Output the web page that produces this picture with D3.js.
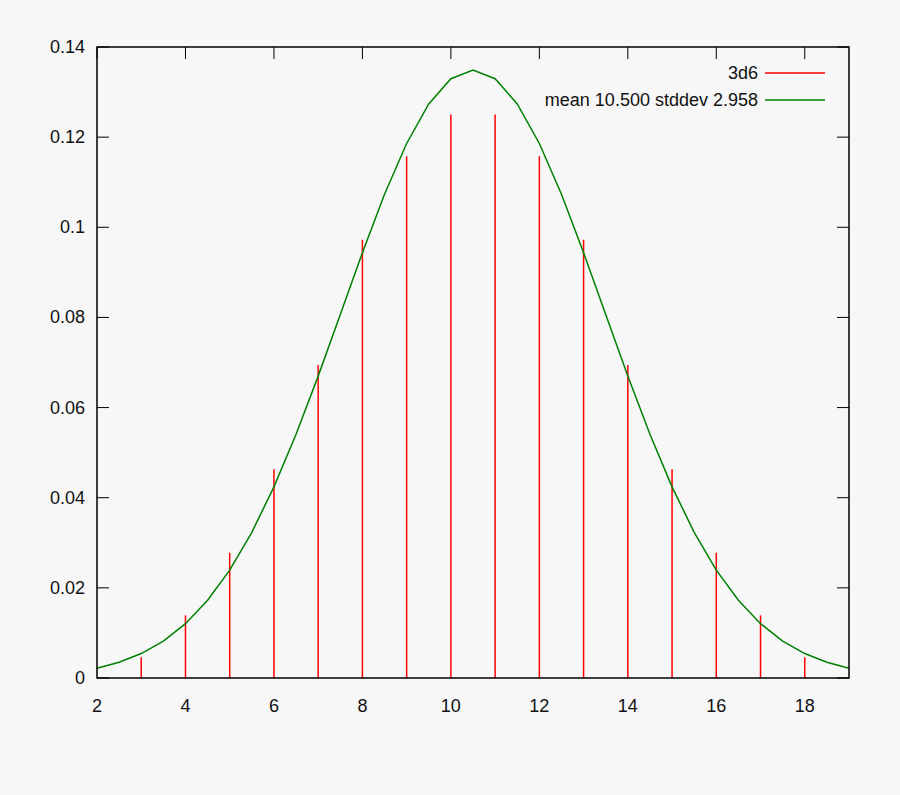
<!DOCTYPE html>
<html>
<head>
<meta charset="utf-8">
<script src="https://cdn.jsdelivr.net/npm/d3@7"></script>
<style>
  body { margin: 0; background: #f7f7f7; }
  svg { display: block; font-family: "Liberation Sans", Arial, sans-serif; }
</style>
</head>
<body>
<div id="chart"></div>
<script>
// 3d6 outcome probabilities
var rolls = [3, 4, 5, 6, 7, 8, 9, 10, 11, 12, 13, 14, 15, 16, 17, 18];
var probs = [0.00463, 0.01389, 0.02778, 0.0463, 0.06944, 0.09722, 0.11574, 0.125,
             0.125, 0.11574, 0.09722, 0.06944, 0.0463, 0.02778, 0.01389, 0.00463];

var curveX = [2, 2.5, 3, 3.5, 4, 4.5, 5, 5.5, 6, 6.5, 7, 7.5, 8, 8.5, 9, 9.5, 10, 10.5,
              11, 11.5, 12, 12.5, 13, 13.5, 14, 14.5, 15, 15.5, 16, 16.5, 17, 17.5, 18, 18.5, 19];
var curveY = [0.00217, 0.00348, 0.00542, 0.0082, 0.01206, 0.01724, 0.02394, 0.03233, 0.0424,
              0.05406, 0.06698, 0.08064, 0.09437, 0.10732, 0.11859, 0.12738, 0.13296, 0.13487,
              0.13296, 0.12738, 0.11859, 0.10732, 0.09437, 0.08064, 0.06698, 0.05406, 0.0424,
              0.03233, 0.02394, 0.01724, 0.01206, 0.0082, 0.00542, 0.00348, 0.00217];

var xTicks = [2, 4, 6, 8, 10, 12, 14, 16, 18];
var yTicks = [0, 0.02, 0.04, 0.06, 0.08, 0.1, 0.12, 0.14];
var yLabels = ["0", "0.02", "0.04", "0.06", "0.08", "0.1", "0.12", "0.14"];
var legendLabels = ["3d6", "mean 10.500 stddev 2.958"];

var width = 900, height = 795;
var plotLeft = 97, plotRight = 849, plotTop = 47, plotBottom = 678;
var tickLen = 12;

var svg = d3.select("#chart").append("svg")
  .attr("width", width)
  .attr("height", height);

svg.append("rect")
  .attr("width", width)
  .attr("height", height)
  .style("fill", "#f7f7f7");

var x = d3.scaleLinear().domain([2, 19]).range([plotLeft, plotRight]);
var y = d3.scaleLinear().domain([0, 0.14]).range([plotBottom, plotTop]);

// tick marks, drawn inward (bottom ones sit under the impulses anyway)
var ticks = svg.append("g").style("stroke", "#000").style("stroke-width", 1);
yTicks.forEach(function(t) {
  ticks.append("line").attr("x1", plotLeft).attr("x2", plotLeft + tickLen)
    .attr("y1", y(t)).attr("y2", y(t));
  ticks.append("line").attr("x1", plotRight).attr("x2", plotRight - tickLen)
    .attr("y1", y(t)).attr("y2", y(t));
});
xTicks.forEach(function(t) {
  ticks.append("line").attr("x1", x(t)).attr("x2", x(t))
    .attr("y1", plotTop).attr("y2", plotTop + tickLen);
});

// labels
svg.selectAll(".ylab").data(yTicks).enter().append("text")
  .attr("x", plotLeft - 12)
  .attr("y", function(d) { return y(d) + 6; })
  .attr("text-anchor", "end")
  .style("font-size", "18px")
  .style("fill", "#111")
  .text(function(d, i) { return yLabels[i]; });

svg.selectAll(".xlab").data(xTicks).enter().append("text")
  .attr("x", function(d) { return x(d); })
  .attr("y", plotBottom + 34)
  .attr("text-anchor", "middle")
  .style("font-size", "18px")
  .style("fill", "#111")
  .text(function(d) { return d; });

// impulses
svg.selectAll(".imp").data(rolls).enter().append("line")
  .attr("x1", function(d) { return x(d); })
  .attr("x2", function(d) { return x(d); })
  .attr("y1", y(0))
  .attr("y2", function(d, i) { return y(probs[i]); })
  .style("stroke", "#ff0000")
  .style("stroke-width", 1.5);

// normal curve
var line = d3.line()
  .x(function(d, i) { return x(curveX[i]); })
  .y(function(d) { return y(d); });

svg.append("path")
  .datum(curveY)
  .attr("d", line)
  .style("fill", "none")
  .style("stroke", "#008000")
  .style("stroke-width", 1.5);

// border
svg.append("rect")
  .attr("x", plotLeft)
  .attr("y", plotTop)
  .attr("width", plotRight - plotLeft)
  .attr("height", plotBottom - plotTop)
  .style("fill", "none")
  .style("stroke", "#000")
  .style("stroke-width", 1.5);

// legend
var legendColors = ["#ff0000", "#008000"];
legendLabels.forEach(function(lab, i) {
  var ly = 73 + i * 27;
  svg.append("text")
    .attr("x", 758)
    .attr("y", ly + 6)
    .attr("text-anchor", "end")
    .style("font-size", "18px")
    .style("fill", "#111")
    .text(lab);
  svg.append("line")
    .attr("x1", 765).attr("x2", 825)
    .attr("y1", ly).attr("y2", ly)
    .style("stroke", legendColors[i])
    .style("stroke-width", 1.5);
});
</script>
</body>
</html>
